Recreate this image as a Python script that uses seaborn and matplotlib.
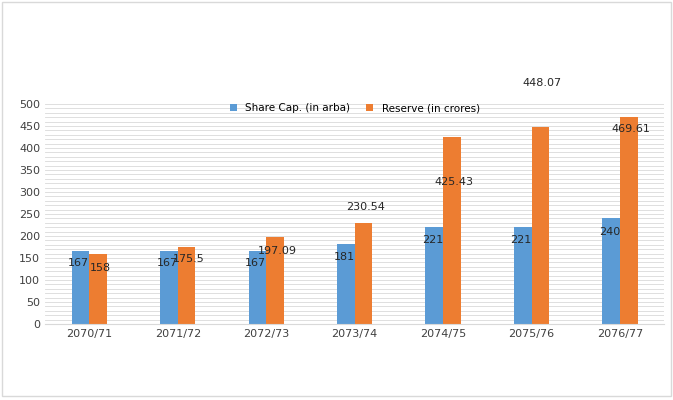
import matplotlib
matplotlib.use("Agg")
import matplotlib.pyplot as plt
import seaborn as sns
import pandas as pd

years = ["2070/71", "2071/72", "2072/73", "2073/74", "2074/75", "2075/76", "2076/77"]
share_cap = [167, 167, 167, 181, 221, 221, 240]
reserve = [158, 175.5, 197.09, 230.54, 425.43, 448.07, 469.61]
share_lbl = ["167", "167", "167", "181", "221", "221", "240"]
res_lbl = ["158", "175.5", "197.09", "230.54", "425.43", "448.07", "469.61"]
share_lbl_y = [139, 139, 139, 152, 191, 191, 209]
res_lbl_y = [127, 148, 166, 266, 323, 548, 443]

s1, s2 = "Share Cap. (in arba)", "Reserve (in crores)"
df = pd.DataFrame({"year": years * 2, "value": share_cap + reserve,
                   "series": [s1] * 7 + [s2] * 7})

fig = plt.figure(figsize=(6.73, 4.0), dpi=100)
ax = fig.add_axes([0.067, 0.19, 0.92, 0.55])
sns.barplot(data=df, x="year", y="value", hue="series", palette=["#5B9BD5", "#ED7D31"],
            width=0.4, ax=ax, saturation=1)
ax.set_ylim(0, 500)
ax.set_yticks(range(0, 501, 50))
ax.set_yticks(range(0, 501, 10), minor=True)
ax.grid(axis="y", which="both", color="#D9D9D9", lw=0.6)
ax.set_axisbelow(True)
for s in ["top", "right", "left"]:
    ax.spines[s].set_visible(False)
ax.spines["bottom"].set_color("#D9D9D9")
ax.tick_params(axis="both", length=0, labelsize=8, colors="#404040")
ax.tick_params(axis="y", which="minor", length=0)
ax.set_xlabel(""); ax.set_ylabel("")
for i in range(7):
    ax.text(i - 0.12, share_lbl_y[i], share_lbl[i], ha="center", va="center", fontsize=8, color="#262626")
    ax.text(i + 0.12, res_lbl_y[i], res_lbl[i], ha="center", va="center", fontsize=8,
            color="#262626", clip_on=False)
ax.legend(loc="upper center", bbox_to_anchor=(0.5, 1.045), ncol=2, frameon=False,
          fontsize=7.5, handlelength=0.7, handleheight=0.7, columnspacing=1.5)
fig.patches.append(plt.Rectangle((0.003, 0.01), 0.994, 0.985, transform=fig.transFigure,
                                 fill=False, edgecolor="#D9D9D9", lw=1))
fig.savefig("out.png", dpi=100)
